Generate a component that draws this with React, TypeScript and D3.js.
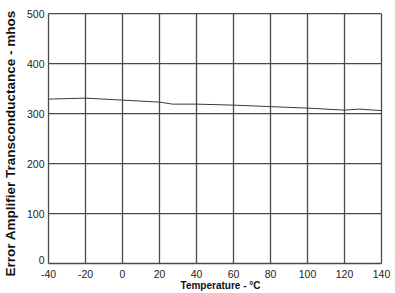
import React from "react";
import * as d3 from "d3";

const temps = [-40, -20, 0, 20, 27, 40, 60, 80, 100, 120, 128, 140];
const gm = [329, 331, 327, 323, 319, 319, 317, 314, 311, 307, 309, 306];
const xTicks = [-40, -20, 0, 20, 40, 60, 80, 100, 120, 140];
const yTicks = [0, 100, 200, 300, 400, 500];

export default function App() {
  const W = 395, H = 293;
  const L = 48.5, R = 381.5, T = 13.7, B = 263.5;
  const x = d3.scaleLinear().domain([-40, 140]).range([L, R]);
  const y = d3.scaleLinear().domain([0, 500]).range([B, T]);
  const line = d3.line<number>().x((_, i) => x(temps[i])).y((d) => y(d));
  const font = "Liberation Sans, Arial, sans-serif";
  return (
    <svg width={W} height={H} style={{ position: "absolute", left: 0, top: 0 }}>
      <rect width={W} height={H} fill="#fff" />
      {xTicks.map((t) => (
        <line key={"x" + t} x1={x(t)} x2={x(t)} y1={T} y2={B} stroke="#4a4a4a" strokeWidth={1.3} />
      ))}
      {yTicks.map((t) => (
        <line key={"y" + t} x1={L} x2={R} y1={y(t)} y2={y(t)} stroke="#4a4a4a" strokeWidth={1.3} />
      ))}
      <path d={line(gm) || ""} fill="none" stroke="#3a3a3a" strokeWidth={1} />
      {xTicks.map((t) => (
        <text key={"xl" + t} x={x(t)} y={B + 14} textAnchor="middle" fontFamily={font} fontSize={10.5} fill="#222">
          {t}
        </text>
      ))}
      {yTicks.map((t) => (
        <text key={"yl" + t} x={L - 4} y={y(t) + (t === 0 ? 0.5 : 4)} textAnchor="end" fontFamily={font} fontSize={10.5} fill="#222">
          {t}
        </text>
      ))}
      <text x={220.5} y={289} textAnchor="middle" fontFamily={font} fontSize={10} fontWeight="bold" fill="#111">
        Temperature - °C
      </text>
      <text
        transform={`translate(14.5, ${(T + B) / 2 + 5}) rotate(-90)`}
        textAnchor="middle"
        fontFamily={font}
        fontSize={13.5}
        fontWeight="bold"
        fill="#111"
      >
        Error Amplifier Transconductance - mhos
      </text>
    </svg>
  );
}
